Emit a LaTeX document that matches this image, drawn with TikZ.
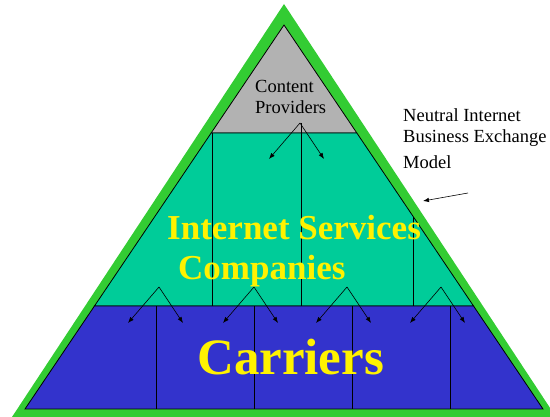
\documentclass[tikz,border=0pt]{standalone}
\usepackage{fontspec}
\setmainfont{Liberation Serif}
\usetikzlibrary{calc,arrows.meta}
\definecolor{rim}{RGB}{51,204,51}
\definecolor{content}{RGB}{178,178,178}
\definecolor{isp}{RGB}{0,204,153}
\definecolor{carrier}{RGB}{51,51,204}
\begin{document}
\begin{tikzpicture}[x=1pt, y=-1pt,
  every node/.style = {inner sep=0pt, align=left},
  note/.style = {font=\fontsize{18.5}{21.5}\selectfont},
  layer/.style = {draw, line width=0.8pt},
  big/.style = {text=yellow, font=\bfseries\fontsize{35}{40}\selectfont},
  split/.style = {-{Latex[length=6pt,width=4.5pt]}, line width=0.6pt},
  rule/.style = {line width=0.7pt}]
  \useasboundingbox (0,0) rectangle (550,417);
  % green rim
  \fill[rim] (284,4) -- (556,417) -- (12,417) -- cycle;
  % inner triangle corners
  \coordinate (top) at (284,25);
  \coordinate (bl) at (25,409);
  \coordinate (br) at (543,409);
  \coordinate (ul) at ($(top)!0.28125!(bl)$);
  \coordinate (ur) at ($(top)!0.28125!(br)$);
  \coordinate (ml) at ($(top)!0.7318!(bl)$);
  \coordinate (mr) at ($(top)!0.7318!(br)$);
  \coordinate (half) at ($(top)!0.5!(br)$);
  % layers
  \filldraw[layer, fill=content] (top) -- (ur) -- (ul) -- cycle;
  \filldraw[layer, fill=isp] (ul) -- (ur) -- (mr) -- (ml) -- cycle;
  \filldraw[layer, fill=carrier] (ml) -- (mr) -- (br) -- (bl) -- cycle;
  % dividers
  \draw[rule] (212,133) -- (212,306);
  \draw[rule] (301,123) -- (301,306);
  \draw[rule] (half) -- (half |- ml);
  \foreach \x in {156,254,352,450}
    \draw[rule] (\x,306) -- (\x,409);
  % arrows
  \coordinate (cp) at (300,123);
  \draw[split] (cp) -- ++(-31,36);
  \draw[split] (cp) -- ++(24,36);
  \foreach \x [count=\i] in {159,254,347,441} {
    \coordinate (s\i) at (\x,287);
    \draw[split] (s\i) -- ++(-31,36);
    \draw[split] (s\i) -- ++(24,36);
  }
  % labels
  \node[note, anchor=base west] (provider) at (255,114) {Content\\Providers};
  \node[note, anchor=base west] (neutral) at (403,143) {Neutral Internet\\Business Exchange};
  \node[note, anchor=base west] (model) at (403,169) {Model};
  \coordinate (tail) at (468,193);
  \draw[split] (tail) -- (423,201);
  \node[big, anchor=base west] (services) at (167,240) {Internet Services};
  \node[big, anchor=base west] (companies) at (178,280) {Companies};
  \node[big, anchor=base west, font=\bfseries\fontsize{51}{56}\selectfont] (carriers) at (197,375) {Carriers};
\end{tikzpicture}
\end{document}
